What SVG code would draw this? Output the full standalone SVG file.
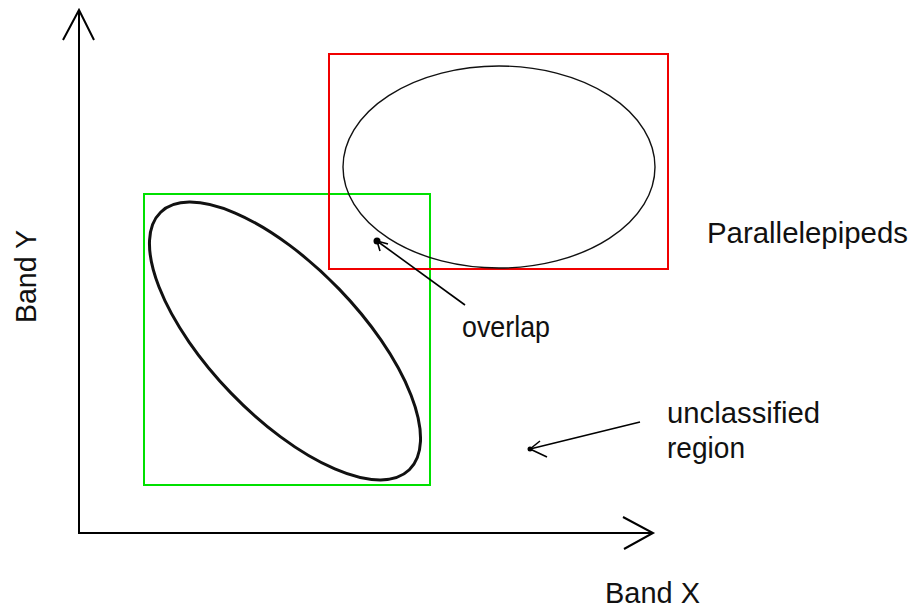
<svg xmlns="http://www.w3.org/2000/svg" width="912" height="608" viewBox="0 0 912 608">
  <style>
    .lbl { font-family: "Liberation Sans", Arial, sans-serif; font-size: 29px; fill: #111; }
    .axis { stroke: #000; stroke-width: 2; fill: none; }
    .ptr { stroke: #000; stroke-width: 1.6; fill: none; stroke-dasharray: none; }
  </style>
  <rect width="912" height="608" fill="#fff"/>

  <!-- axes -->
  <g id="axes">
    <path class="axis" d="M79,10 V533 H653"/>
    <path class="axis" stroke-width="1.6" d="M63,40 L79,10 L94,40"/>
    <path class="axis" stroke-width="1.6" d="M623,517 L653,533 L624,549"/>
  </g>

  <!-- class boxes (parallelepipeds) -->
  <g id="box-green">
    <rect x="144" y="194" width="286" height="291" fill="none" stroke="#00e000" stroke-width="2"/>
  </g>
  <g id="box-red">
    <rect x="329" y="54" width="339" height="215" fill="none" stroke="#f00000" stroke-width="2"/>
  </g>

  <!-- class distributions -->
  <g id="cluster-a">
    <ellipse cx="285" cy="341" rx="179" ry="75" transform="rotate(46 285 341)" fill="none" stroke="#111" stroke-width="3"/>
  </g>
  <g id="cluster-b">
    <ellipse cx="499" cy="167" rx="156" ry="101" fill="none" stroke="#111" stroke-width="1.4"/>
  </g>

  <!-- pointer arrows -->
  <g id="connectors">
    <path class="ptr" d="M465,305 L377,241"/>
    <path class="ptr" d="M377,241 L388,244 M377,241 L380,251"/>
    <circle cx="377" cy="241" r="3.5" fill="#000"/>
    <path class="ptr" d="M640,422 L530,449"/>
    <path class="ptr" d="M530,449 L540,441 M530,449 L547,457"/>
    <circle cx="530" cy="449" r="2.5" fill="#000"/>
  </g>

  <!-- labels -->
  <g id="labels">
    <text class="lbl" x="707" y="243" textLength="201" lengthAdjust="spacingAndGlyphs">Parallelepipeds</text>
    <text class="lbl" x="462" y="337" textLength="88" lengthAdjust="spacingAndGlyphs">overlap</text>
    <text class="lbl" x="667" y="423" textLength="153" lengthAdjust="spacingAndGlyphs">unclassified</text>
    <text class="lbl" x="667" y="458" textLength="78" lengthAdjust="spacingAndGlyphs">region</text>
    <text class="lbl" x="605" y="603" textLength="95" lengthAdjust="spacingAndGlyphs">Band X</text>
    <text class="lbl" transform="translate(36 323) rotate(-90)" textLength="93" lengthAdjust="spacingAndGlyphs">Band Y</text>
  </g>
</svg>
